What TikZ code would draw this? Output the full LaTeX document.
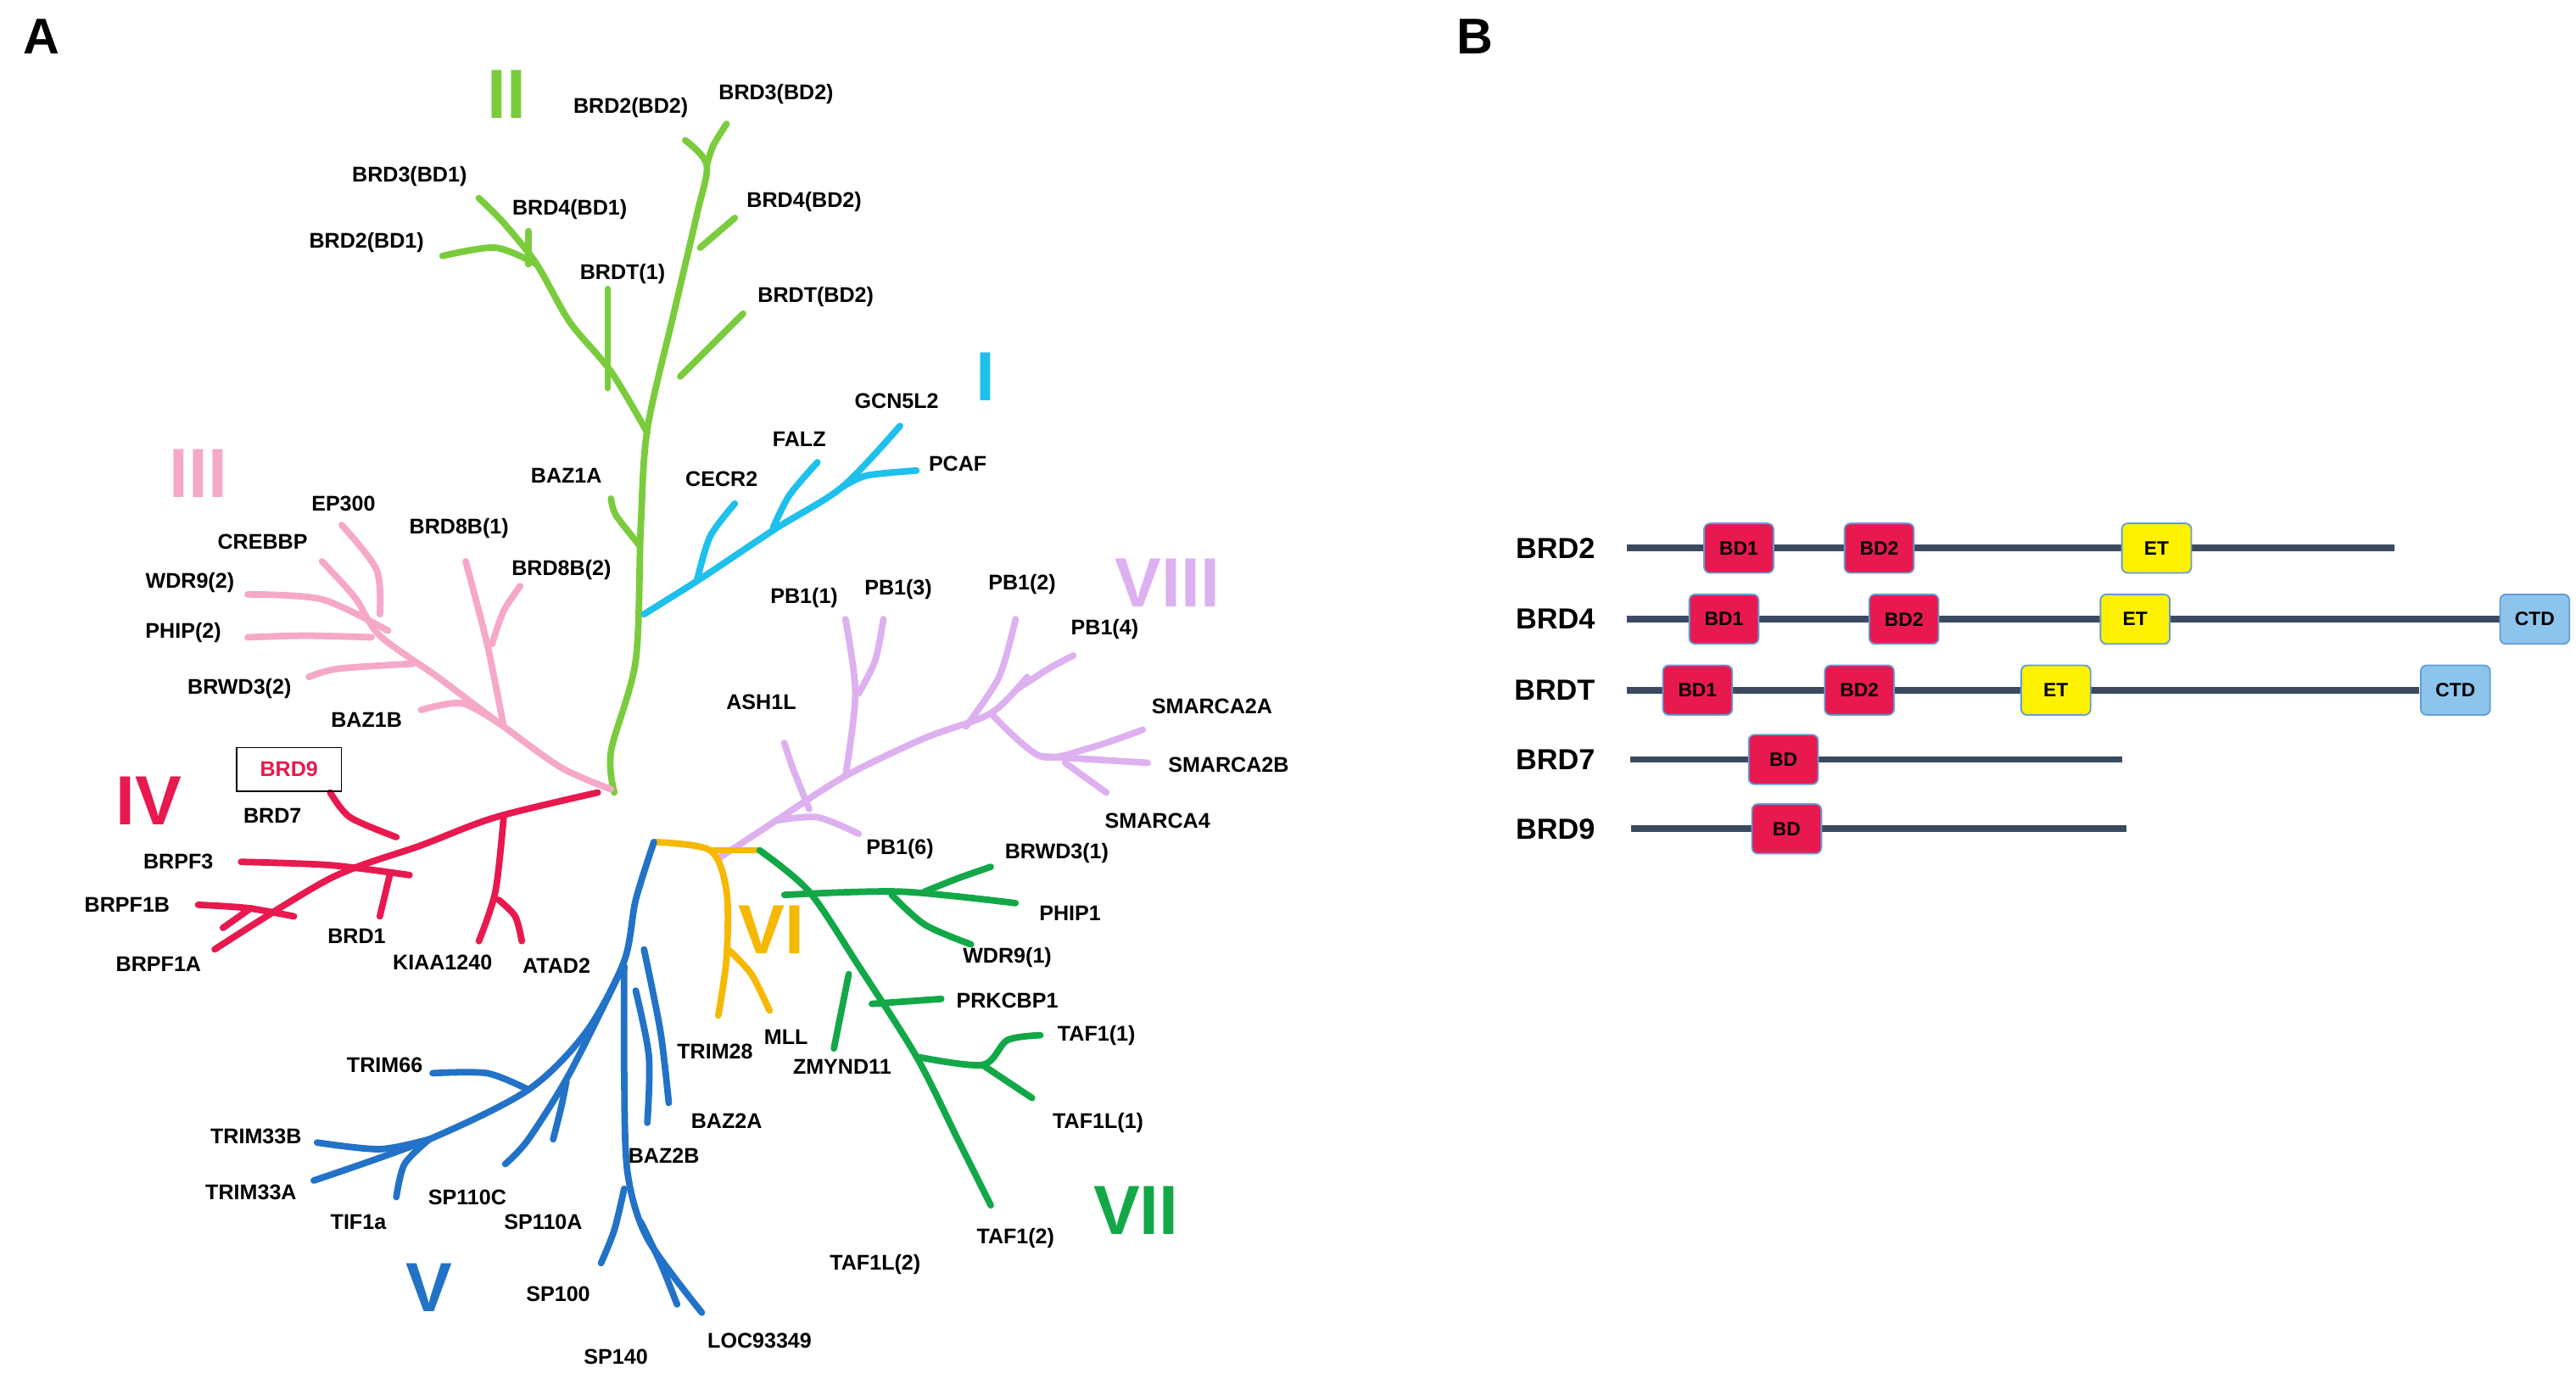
\documentclass[tikz,border=0pt]{standalone}
\usepackage{fontspec}
\setmainfont{Liberation Sans}
\usetikzlibrary{positioning}
\definecolor{cI}{HTML}{1EC0EC}
\definecolor{cII}{HTML}{7ACC3C}
\definecolor{cIII}{HTML}{F5A8C8}
\definecolor{cIV}{HTML}{E8194F}
\definecolor{cV}{HTML}{2272C8}
\definecolor{cVI}{HTML}{F6B800}
\definecolor{cVII}{HTML}{12A848}
\definecolor{cVIII}{HTML}{DDB0F0}
\definecolor{bar}{HTML}{3B4A60}
\definecolor{ctd}{HTML}{8CC4EC}
\definecolor{et}{HTML}{FFF200}
\tikzset{
  lab/.style={font=\fontsize{11}{13}\selectfont\bfseries, inner sep=1pt},
  grp/.style={font=\fontsize{36}{40}\selectfont\bfseries},
  br/.style={line width=3.4pt, line cap=round, line join=round},
  prot/.style={font=\fontsize{15}{17}\selectfont\bfseries, anchor=east},
  chain/.style={bar, line width=3.4pt},
  dom/.style={draw=cV!70, line width=0.8pt, rounded corners=3pt, minimum width=1.26cm,
    minimum height=0.9cm, inner sep=0pt, font=\fontsize{10}{12}\selectfont\bfseries},
  bd/.style={dom, fill=cIV},
  etd/.style={dom, fill=et},
  ctdd/.style={dom, fill=ctd}
}
\begin{document}
\begin{tikzpicture}[x=0.03cm,y=-0.03cm]
\useasboundingbox (0,0) rectangle (1560,835);
\node[font=\fontsize{26}{30}\selectfont\bfseries] (pA) at (25,22) {A};
\node[font=\fontsize{26}{30}\selectfont\bfseries] (pB) at (893,22) {B};
% group labels
\node[grp, cII] (gII) at (307,57) {II};
\node[grp, cI] (gI) at (597,228) {I};
\node[grp, cIII] (gIII) at (120,287) {III};
\node[grp, cIV] (gIV) at (90,485) {IV};
\node[grp, cV] (gV) at (260,780) {V};
\node[grp, cVI] (gVI) at (467,563) {VI};
\node[grp, cVII] (gVII) at (688,733) {VII};
\node[grp, cVIII] (gVIII) at (707,353) {VIII};
% II
\begin{scope}[br, cII]
\draw plot[smooth] coordinates {(372,480) (370,455) (385,400) (388,320) (392,260) (408,190) (422,130) (428,100) (415,85)};
\draw plot[smooth] coordinates {(428,100) (432,88) (440,75)};
\draw (424,150) -- (445,132);
\draw (412,228) -- (450,190);
\draw plot[smooth] coordinates {(392,262) (370,225) (345,195) (325,160) (305,135) (290,120)};
\draw plot[smooth] coordinates {(325,160) (300,150) (268,155)};
\draw (320,160) -- (320,140);
\draw (368,235) -- (368,175);
\draw plot[smooth] coordinates {(387,330) (373,312) (370,302)};
\end{scope}
% I
\begin{scope}[br, cI]
\draw plot[smooth] coordinates {(390,372) (425,350) (470,320) (510,295) (545,258)};
\draw plot[smooth] coordinates {(422,352) (430,325) (445,305)};
\draw plot[smooth] coordinates {(468,320) (478,300) (495,280)};
\draw plot[smooth] coordinates {(510,295) (525,288) (555,285)};
\end{scope}
% III
\begin{scope}[br, cIII]
\draw plot[smooth] coordinates {(370,478) (340,465) (305,440) (265,410) (230,385) (215,362) (195,340)};
\draw plot[smooth] coordinates {(230,372) (228,345) (207,318)};
\draw plot[smooth] coordinates {(235,382) (195,363) (150,360)};
\draw plot[smooth] coordinates {(225,386) (185,385) (150,386)};
\draw plot[smooth] coordinates {(250,402) (205,405) (187,410)};
\draw plot[smooth] coordinates {(305,440) (280,426) (255,430)};
\draw plot[smooth] coordinates {(305,440) (295,390) (282,340)};
\draw plot[smooth] coordinates {(298,390) (305,370) (315,355)};
\end{scope}
% IV
\begin{scope}[br, cIV]
\draw plot[smooth] coordinates {(362,480) (300,495) (255,512) (200,532) (130,575)};
\draw plot[smooth] coordinates {(200,480) (212,495) (240,507)};
\draw plot[smooth] coordinates {(146,522) (200,524) (248,530)};
\draw plot[smooth] coordinates {(120,548) (150,550) (178,555)};
\draw (135,562) -- (152,550);
\draw plot[smooth] coordinates {(230,555) (236,530)};
\draw plot[smooth] coordinates {(290,570) (300,540) (305,495)};
\draw plot[smooth] coordinates {(316,570) (312,555) (302,545)};
\end{scope}
% VIII
\begin{scope}[br, cVIII]
\draw plot[smooth] coordinates {(435,520) (470,497) (512,470) (560,447) (600,432) (622,410)};
\draw plot[smooth] coordinates {(470,497) (495,495) (520,505)};
\draw plot[smooth] coordinates {(490,490) (480,465) (475,450)};
\draw plot[smooth] coordinates {(512,470) (518,420) (512,375)};
\draw plot[smooth] coordinates {(520,420) (530,400) (535,375)};
\draw plot[smooth] coordinates {(585,440) (605,410) (615,375)};
\draw plot[smooth] coordinates {(615,418) (635,405) (650,397)};
\draw plot[smooth] coordinates {(600,432) (630,458) (660,453) (692,442)};
\draw plot[smooth] coordinates {(630,458) (695,462)};
\draw plot[smooth] coordinates {(645,462) (670,480)};
\end{scope}
% VI
\begin{scope}[br, cVI]
\draw plot[smooth] coordinates {(396,510) (430,515) (440,540) (440,580) (435,615)};
\draw plot[smooth] coordinates {(441,575) (455,590) (466,612)};
\draw (430,515) -- (460,515);
\end{scope}
% VII
\begin{scope}[br, cVII]
\draw plot[smooth] coordinates {(460,515) (490,540) (520,585) (555,640) (580,690) (600,730)};
\draw plot[smooth] coordinates {(475,542) (545,540) (615,547)};
\draw plot[smooth] coordinates {(560,540) (580,532) (600,525)};
\draw plot[smooth] coordinates {(540,542) (560,560) (588,572)};
\draw plot[smooth] coordinates {(528,608) (570,605)};
\draw plot[smooth] coordinates {(514,590) (505,635)};
\draw plot[smooth] coordinates {(555,640) (595,645) (610,630) (630,627)};
\draw plot[smooth] coordinates {(595,645) (625,665)};
\end{scope}
% V
\begin{scope}[br, cV]
\draw plot[smooth] coordinates {(396,510) (385,545) (378,582) (355,625) (320,660) (260,690) (190,715)};
\draw plot[smooth] coordinates {(320,660) (295,650) (262,650)};
\draw plot[smooth] coordinates {(260,690) (230,696) (192,692)};
\draw plot[smooth] coordinates {(260,690) (245,705) (240,725)};
\draw plot[smooth] coordinates {(375,590) (345,650) (320,690) (306,705)};
\draw plot[smooth] coordinates {(343,655) (340,670) (335,690)};
\draw plot[smooth] coordinates {(378,585) (378,650) (380,710) (392,750) (425,795)};
\draw plot[smooth] coordinates {(378,720) (372,745) (364,765)};
\draw plot[smooth] coordinates {(388,740) (400,765) (410,790)};
\draw plot[smooth] coordinates {(390,575) (400,625) (405,668)};
\draw plot[smooth] coordinates {(385,600) (393,640) (392,680)};
\end{scope}
% leaf labels
\node[lab] (brd2b) at (382,65) {BRD2(BD2)};
\node[lab] (brd3b) at (470,57) {BRD3(BD2)};
\node[lab] (brd3a) at (248,107) {BRD3(BD1)};
\node[lab] (brd4a) at (345,127) {BRD4(BD1)};
\node[lab] (brd2a) at (222,147) {BRD2(BD1)};
\node[lab] (brdt1) at (377,166) {BRDT(1)};
\node[lab] (brd4b) at (487,122) {BRD4(BD2)};
\node[lab] (brdtb) at (494,180) {BRDT(BD2)};
\node[lab] (gcn) at (543,243) {GCN5L2};
\node[lab] (falz) at (484,266) {FALZ};
\node[lab] (pcaf) at (580,281) {PCAF};
\node[lab] (cecr) at (437,290) {CECR2};
\node[lab] (baz1a) at (343,288) {BAZ1A};
\node[lab] (ep300) at (208,305) {EP300};
\node[lab] (crebbp) at (159,328) {CREBBP};
\node[lab] (brd8a) at (278,320) {BRD8B(1)};
\node[lab] (wdr92) at (115,353) {WDR9(2)};
\node[lab] (brd8b) at (340,345) {BRD8B(2)};
\node[lab] (phip2) at (111,383) {PHIP(2)};
\node[lab] (brwd32) at (145,417) {BRWD3(2)};
\node[lab] (baz1b) at (222,436) {BAZ1B};
\node[lab, cIV, draw=black, line width=0.6pt, minimum width=1.9cm, minimum height=0.8cm] (brd9t) at (175,466) {BRD9};
\node[lab] (brd7t) at (165,494) {BRD7};
\node[lab] (brpf3) at (108,522) {BRPF3};
\node[lab] (brpf1b) at (77,548) {BRPF1B};
\node[lab] (brpf1a) at (96,584) {BRPF1A};
\node[lab] (brd1) at (216,567) {BRD1};
\node[lab] (kiaa) at (268,583) {KIAA1240};
\node[lab] (atad2) at (337,585) {ATAD2};
\node[lab] (pb11) at (487,362) {PB1(1)};
\node[lab] (pb13) at (544,357) {PB1(3)};
\node[lab] (pb12) at (619,354) {PB1(2)};
\node[lab] (pb14) at (669,381) {PB1(4)};
\node[lab] (ash1l) at (461,425) {ASH1L};
\node[lab] (sm2a) at (734,428) {SMARCA2A};
\node[lab] (sm2b) at (744,463) {SMARCA2B};
\node[lab] (sm4) at (701,497) {SMARCA4};
\node[lab] (pb16) at (545,514) {PB1(6)};
\node[lab] (brwd31) at (640,517) {BRWD3(1)};
\node[lab] (phip1) at (648,553) {PHIP1};
\node[lab] (wdr91) at (610,580) {WDR9(1)};
\node[lab] (prk) at (610,606) {PRKCBP1};
\node[lab] (taf11) at (664,627) {TAF1(1)};
\node[lab] (trim28) at (433,637) {TRIM28};
\node[lab] (mll) at (476,628) {MLL};
\node[lab] (zmy) at (510,646) {ZMYND11};
\node[lab] (taf1l1) at (665,680) {TAF1L(1)};
\node[lab] (taf12) at (615,750) {TAF1(2)};
\node[lab] (taf1l2) at (530,766) {TAF1L(2)};
\node[lab] (trim66) at (233,645) {TRIM66};
\node[lab] (baz2a) at (440,679) {BAZ2A};
\node[lab] (trim33b) at (155,688) {TRIM33B};
\node[lab] (baz2b) at (402,700) {BAZ2B};
\node[lab] (trim33a) at (152,722) {TRIM33A};
\node[lab] (sp110c) at (283,725) {SP110C};
\node[lab] (tif1a) at (217,740) {TIF1a};
\node[lab] (sp110a) at (329,740) {SP110A};
\node[lab] (sp100) at (338,784) {SP100};
\node[lab] (loc) at (460,812) {LOC93349};
\node[lab] (sp140) at (373,822) {SP140};
% B: domain maps
\node[prot] (nBRD2) at (970,332) {BRD2};
\node[prot] (nBRD4) at (970,375) {BRD4};
\node[prot] (nBRDT) at (970,418) {BRDT};
\node[prot] (nBRD7) at (970,460) {BRD7};
\node[prot] (nBRD9) at (970,502) {BRD9};
\coordinate (e2) at (1450,332);
\coordinate (e4) at (1515,375);
\coordinate (et) at (1465,418);
\coordinate (e7) at (1285,460);
\coordinate (e9) at (1288,502);
\draw[chain] (nBRD2.east) ++(15,0) coordinate (s2) -- (e2);
\draw[chain] (nBRD4.east) ++(15,0) coordinate (s4) -- (e4);
\draw[chain] (nBRDT.east) ++(15,0) coordinate (st) -- (et);
\draw[chain] (nBRD7.east) ++(17,0) coordinate (s7) -- (e7);
\draw[chain] (nBRD9.east) ++(18,0) coordinate (s9) -- (e9);
\node[bd] (b2a) at (1053,332) {BD1};
\node[bd] (b2b) at (1138,332) {BD2};
\node[etd] (b2e) at (1306,332) {ET};
\node[bd] (b4a) at (1044,375) {BD1};
\node[bd] (b4b) at (1153,375) {BD2};
\node[etd] (b4e) at (1293,375) {ET};
\node[ctdd] (b4c) at (1535,375) {CTD};
\node[bd] (bta) at (1028,418) {BD1};
\node[bd] (btb) at (1126,418) {BD2};
\node[etd] (bte) at (1245,418) {ET};
\node[ctdd] (btc) at (1487,418) {CTD};
\node[bd] (b7) at (1080,460) {BD};
\node[bd] (b9) at (1082,502) {BD};
\end{tikzpicture}
\end{document}
